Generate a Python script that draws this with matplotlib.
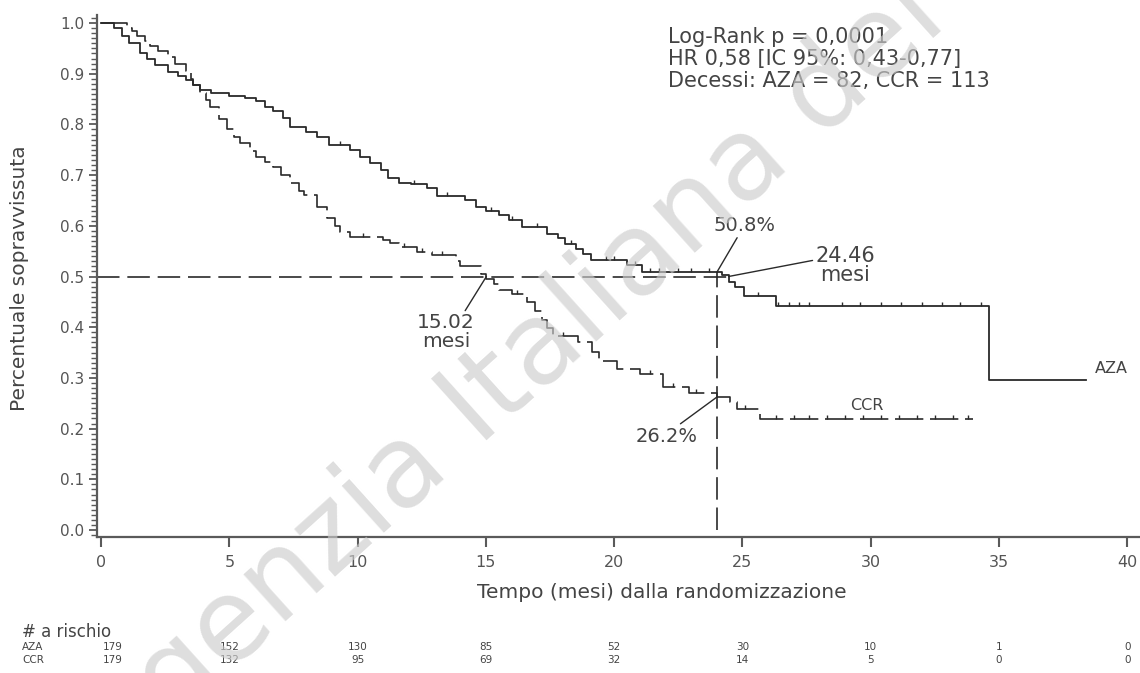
import matplotlib.pyplot as plt
import numpy as np
from matplotlib.ticker import MultipleLocator
from matplotlib.transforms import blended_transform_factory

# Kaplan-Meier steps (time in months, survival)
aza_t = [0, 0.5, 0.8, 1.1, 1.5, 1.8, 2.1, 2.6, 3.0, 3.3, 3.6, 3.85, 4.3, 5.0, 5.6,
         6.05, 6.4, 6.7, 7.1, 7.35, 8.0, 8.4, 8.9, 9.7, 10.1, 10.5, 10.9, 11.2, 11.6,
         12.1, 12.7, 13.1, 14.2, 14.6, 15.0, 15.5, 15.9, 16.4, 17.4, 17.8, 18.1, 18.5,
         18.8, 19.1, 20.5, 21.1, 24.2, 24.46, 24.7, 25.05, 26.3, 34.6, 38.4]
aza_s = [1.0, 0.99, 0.975, 0.96, 0.94, 0.93, 0.918, 0.904, 0.895, 0.888, 0.878, 0.868,
         0.862, 0.856, 0.852, 0.846, 0.835, 0.826, 0.812, 0.795, 0.785, 0.775, 0.76,
         0.75, 0.736, 0.724, 0.71, 0.695, 0.685, 0.682, 0.675, 0.658, 0.65, 0.638,
         0.63, 0.622, 0.612, 0.598, 0.583, 0.575, 0.565, 0.555, 0.545, 0.533, 0.522,
         0.508, 0.502, 0.49, 0.48, 0.461, 0.441, 0.295, 0.295]

ccr_t = [0, 1.0, 1.2, 1.4, 1.7, 1.9, 2.2, 2.6, 2.9, 3.3, 3.5, 3.6, 3.85, 4.1, 4.25,
         4.6, 4.9, 5.2, 5.4, 5.8, 6.05, 6.4, 6.7, 7.0, 7.35, 7.7, 7.9, 8.4, 8.8, 9.1,
         9.3, 9.7, 11.0, 11.25, 11.6, 12.3, 12.9, 13.85, 14.0, 14.8, 15.02, 15.3, 15.5,
         16.0, 16.6, 16.9, 17.2, 17.4, 17.6, 18.6, 19.15, 19.4, 20.1, 21.0, 21.9, 22.9,
         24.0, 24.5, 24.8, 25.7, 34.0]
ccr_s = [1.0, 0.99, 0.985, 0.975, 0.965, 0.955, 0.945, 0.933, 0.92, 0.905, 0.89, 0.878,
         0.862, 0.848, 0.835, 0.81, 0.79, 0.775, 0.764, 0.748, 0.736, 0.725, 0.716, 0.7,
         0.685, 0.668, 0.66, 0.638, 0.616, 0.6, 0.587, 0.577, 0.572, 0.567, 0.559, 0.549,
         0.543, 0.53, 0.52, 0.504, 0.495, 0.485, 0.474, 0.465, 0.449, 0.432, 0.415, 0.398,
         0.382, 0.37, 0.352, 0.333, 0.317, 0.307, 0.283, 0.27, 0.262, 0.252, 0.238, 0.218,
         0.218]

aza_cens = [9.3, 12.2, 13.5, 15.2, 16.0, 17.0, 18.3, 19.7, 20.0, 20.8, 21.4, 21.75, 22.5,
            23.0, 23.7, 25.6, 26.4, 26.8, 27.2, 27.6, 28.9, 29.6, 30.4, 31.2, 32.0, 32.8,
            33.5, 34.3]
ccr_cens = [10.2, 11.8, 12.5, 13.3, 16.2, 18.0, 21.4, 22.3, 23.2, 25.1, 26.3, 27.0, 27.6,
            28.3, 29.0, 29.7, 30.4, 31.1, 31.8, 32.5, 33.2, 33.8]

median_aza = 24.46
median_ccr = 15.02
landmark = 24
surv_aza_24 = 0.508
surv_ccr_24 = 0.262

risk_times = [0, 5, 10, 15, 20, 25, 30, 35, 40]
aza_risk = [179, 152, 130, 85, 52, 30, 10, 1, 0]
ccr_risk = [179, 132, 95, 69, 32, 14, 5, 0, 0]

W, H = 1140, 673
fig = plt.figure(figsize=(W / 100, H / 100), dpi=100)
ax = fig.add_axes([97 / W, 1 - 537 / H, (W - 97) / W, (537 - 15) / H])

line_c = '#2a2a2a'
grey = '#555555'

ax.step(aza_t, aza_s, where='post', color=line_c, lw=1.3)
ax.step(ccr_t, ccr_s, where='post', color=line_c, lw=1.2, linestyle=(0, (17, 4)))


def surv_at(ts, ss, t):
    i = np.searchsorted(ts, t, side='right') - 1
    return np.asarray(ss)[i]


ax.plot(aza_cens, surv_at(aza_t, aza_s, aza_cens), linestyle='none', marker=2,
        ms=3, mew=1.0, color=line_c)
ax.plot(ccr_cens, surv_at(ccr_t, ccr_s, ccr_cens), linestyle='none', marker=2,
        ms=3, mew=1.0, color=line_c)

# reference lines
xmin = -0.16
ax.plot([xmin, median_aza], [0.5, 0.5], color=line_c, lw=1.2, linestyle=(0, (13.5, 4.7)))
ax.plot([landmark, landmark], [0, surv_aza_24], color=line_c, lw=1.2,
        linestyle=(0, (13.5, 4.7)))

ax.set_xlim(xmin, 40.5)
ax.set_ylim(-0.0138, 1.0158)
ax.set_xticks(range(0, 41, 5))
ax.set_yticks(np.arange(0, 1.01, 0.1))
ax.yaxis.set_minor_locator(MultipleLocator(0.01))
ax.set_yticklabels([f'{v:.1f}' for v in np.arange(0, 1.01, 0.1)])
for s in ['top', 'right']:
    ax.spines[s].set_visible(False)
for s in ['left', 'bottom']:
    ax.spines[s].set_color('#5a5a5a')
    ax.spines[s].set_linewidth(1.6)
ax.tick_params(axis='x', length=7, width=1.5, color='#5a5a5a', labelsize=11.5,
               labelcolor=grey, pad=6)
ax.tick_params(axis='y', which='major', length=6, width=1.3, color='#5a5a5a',
               labelsize=11, labelcolor=grey, pad=3)
ax.tick_params(axis='y', which='minor', length=4, width=1.0, color='#5a5a5a')

txt_c = '#444444'
arrow = dict(arrowstyle='-', color=line_c, lw=1.0, shrinkA=0, shrinkB=0)
ax.annotate(f'{surv_aza_24 * 100:.1f}%', xy=(landmark, surv_aza_24), xytext=(-2, 27),
            textcoords='offset points', ha='left', va='bottom', fontsize=14,
            color=txt_c, arrowprops=dict(arrow, relpos=(0.4, 0)))
ax.annotate(f'{median_aza:.2f}\nmesi', xy=(median_aza, 0.5), xytext=(84, 8),
            textcoords='offset points', ha='center', va='center', fontsize=15,
            color=txt_c, linespacing=0.95, arrowprops=dict(arrow, relpos=(0, 0.64)))
ax.annotate(f'{median_ccr:.2f}\nmesi', xy=(median_ccr, 0.5), xytext=(-29, -40),
            textcoords='offset points', ha='center', va='center', fontsize=14.5,
            color=txt_c, linespacing=0.95, arrowprops=dict(arrow, relpos=(0.8, 1)))
ax.annotate(f'{surv_ccr_24 * 100:.1f}%', xy=(landmark, surv_ccr_24), xytext=(-36, -28),
            textcoords='offset points', ha='center', va='center', fontsize=14,
            color=txt_c, arrowprops=dict(arrow, relpos=(0.66, 1)))

ax.text(38.75, 0.318, 'AZA', fontsize=11.5, color=txt_c, ha='left', va='center')
ax.text(29.2, 0.245, 'CCR', fontsize=11.5, color=txt_c, ha='left', va='center')


def fx(px):
    return px / W


def fy(py):
    return 1 - py / H


for i, line in enumerate(['Log-Rank p = 0,0001', 'HR 0,58 [IC 95%: 0,43-0,77]',
                          'Decessi: AZA = 82, CCR = 113']):
    fig.text(fx(668), fy(37 + 22 * i), line, fontsize=15, color=txt_c,
             ha='left', va='center')

fig.text(fx(20), fy(278), 'Percentuale sopravvissuta', rotation=90, fontsize=14.5,
         color=txt_c, ha='center', va='center')
fig.text(fx(662), fy(593), 'Tempo (mesi) dalla randomizzazione', fontsize=14.5,
         color=txt_c, ha='center', va='center')

fig.text(fx(22), fy(632), '# a rischio', fontsize=12, color=txt_c, ha='left', va='center')
fig.text(fx(22), fy(647), 'AZA', fontsize=7.5, color=txt_c, ha='left', va='center')
fig.text(fx(22), fy(660), 'CCR', fontsize=7.5, color=txt_c, ha='left', va='center')
bt = blended_transform_factory(ax.transData, fig.transFigure)
for i, t in enumerate(risk_times):
    xt = t + (0.45 if i == 0 else 0)
    fig.text(xt, fy(647), str(aza_risk[i]), transform=bt, fontsize=7.5, color=txt_c,
             ha='center', va='center')
    fig.text(xt, fy(660), str(ccr_risk[i]), transform=bt, fontsize=7.5, color=txt_c,
             ha='center', va='center')

# watermark
fig.text(fx(115), fy(775), 'Agenzia Italiana del Farmaco', fontsize=82, color='#cccccc',
         alpha=0.65, rotation=42, rotation_mode='anchor', ha='left', va='baseline',
         zorder=10)

fig.savefig('out.png', dpi=100)
